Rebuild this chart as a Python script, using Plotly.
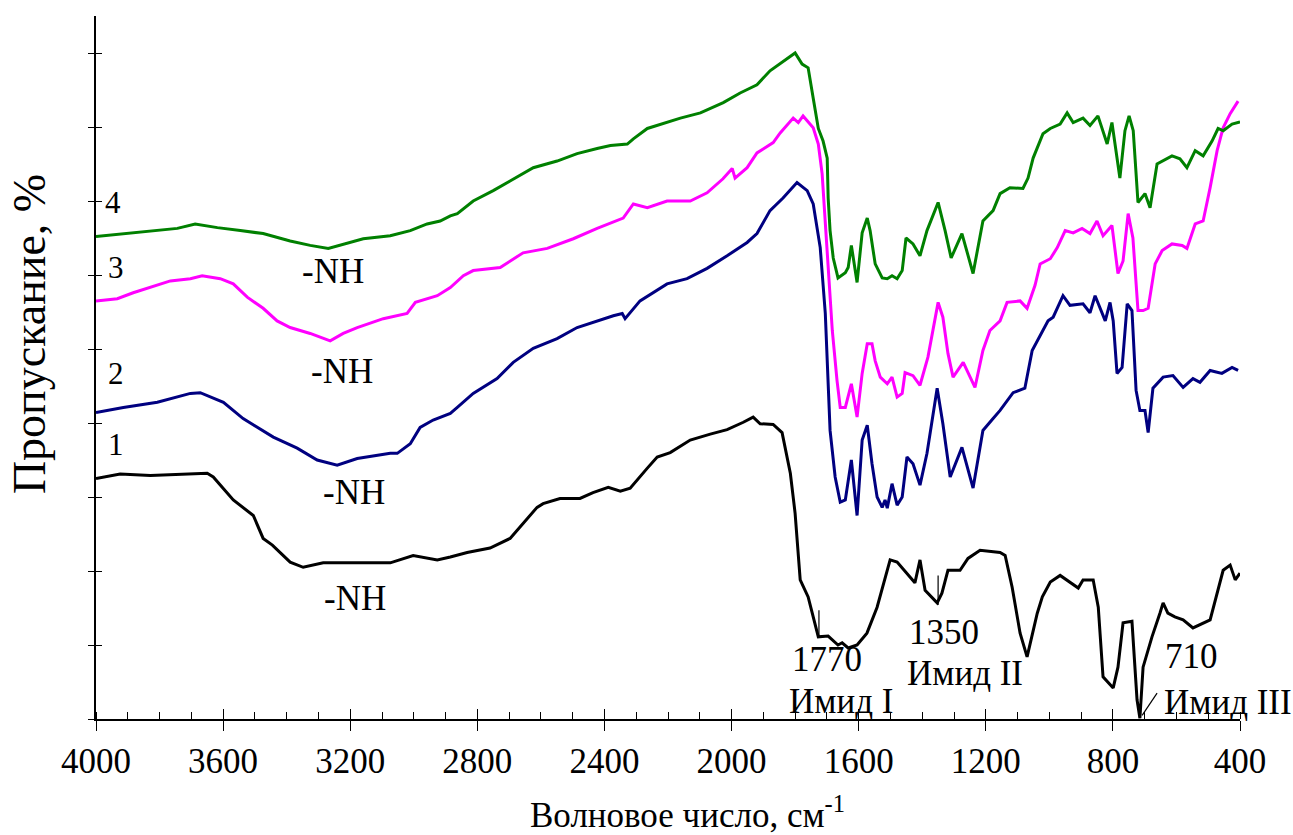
import plotly.graph_objects as go

# Curve 1 (black)
wn1 = [4000,3924,3829,3735,3650,3631,3568,3505,3474,3445,3389,3348,3285,3168,3074,3002,2926,2885,2832,2760,2697,2612,2593,2540,2477,2436,2388,2350,2319,2265,2234,2193,2130,2067,2014,1963,1932,1910,1869,1841,1815,1800,1784,1759,1727,1696,1665,1652,1633,1605,1574,1542,1517,1501,1479,1448,1423,1407,1391,1353,1338,1319,1281,1256,1218,1155,1139,1117,1092,1070,1038,1022,997,966,934,909,894,862,846,831,799,784,768,740,724,715,705,677,652,642,627,605,579,548,494,453,431,415,400]
t1 = [32.5,33.1,32.9,33.1,33.2,32.7,29.6,27.5,24.4,23.5,21.2,20.5,21.1,21.1,21.1,22.1,21.5,21.9,22.5,23.1,24.4,28.6,29.1,29.8,29.8,30.6,31.3,30.8,31.2,33.9,35.4,36.0,37.7,38.5,39.1,40.1,40.8,39.9,39.8,38.7,33.2,27.8,18.8,16.5,11.1,11.2,10.0,10.3,9.6,10.0,11.6,15.1,19.2,21.5,21.2,19.7,18.4,21.5,17.4,15.7,17.0,20.1,20.1,21.7,22.8,22.5,22.1,17.8,11.6,8.4,14.3,16.5,18.5,19.4,18.5,17.7,18.8,18.8,15.1,5.7,4.2,7.0,13.0,13.2,2.6,0.1,7.0,11.1,14.3,15.7,14.3,13.8,13.4,12.3,13.4,20.1,20.8,18.8,19.7]

# Curve 2 (navy)
wn2 = [4000,3914,3807,3703,3672,3599,3537,3442,3367,3304,3241,3178,3074,3052,3011,2980,2939,2885,2863,2813,2738,2687,2624,2549,2486,2423,2372,2344,2335,2288,2203,2140,2077,2014,1951,1920,1879,1838,1794,1762,1743,1721,1705,1690,1674,1658,1642,1623,1605,1589,1573,1558,1542,1526,1517,1510,1495,1479,1463,1448,1429,1407,1385,1353,1335,1312,1275,1240,1209,1177,1155,1114,1077,1054,1020,1004,988,957,935,894,872,856,824,809,799,787,771,755,740,727,715,699,689,674,642,611,579,548,526,494,457,425,406]
t2 = [41.4,42.1,42.8,44.0,44.1,42.8,40.6,38.1,36.6,35.0,34.3,35.2,35.9,35.9,37.2,39.4,40.4,41.3,42.1,44.0,46.0,48.2,50.1,51.4,52.9,53.8,54.5,54.8,54.1,56.5,58.8,59.5,60.9,62.6,64.4,65.6,68.7,70.4,72.5,71.4,69.6,63.7,54.8,39.0,32.7,29.3,29.6,35.0,27.5,37.7,39.7,34.5,30.0,28.6,29.6,28.5,31.8,28.9,30.0,35.4,34.5,31.6,35.9,44.7,39.9,32.7,36.7,31.2,39.0,40.6,41.7,44.1,44.7,49.8,52.5,53.8,54.3,57.2,55.9,56.1,54.9,57.2,53.8,56.3,53.8,46.7,47.5,56.1,55.2,44.4,41.7,41.7,38.7,44.7,46.2,46.4,44.8,46.0,45.5,47.1,46.7,47.5,47.1]

# Curve 3 (magenta)
wn3 = [4000,3933,3883,3807,3766,3703,3666,3609,3568,3524,3474,3430,3389,3326,3263,3222,3178,3096,3021,2995,2926,2885,2844,2813,2728,2656,2580,2498,2423,2341,2309,2265,2203,2130,2077,2027,1998,1989,1951,1920,1869,1847,1806,1790,1775,1743,1727,1715,1699,1683,1668,1658,1642,1623,1605,1589,1573,1558,1548,1532,1510,1495,1479,1463,1454,1429,1407,1382,1350,1335,1319,1303,1271,1234,1209,1187,1155,1133,1092,1070,1045,1029,997,975,950,925,897,872,850,831,803,784,768,752,737,721,705,689,667,645,614,582,567,541,516,494,472,453,431,406]
t3 = [56.5,56.8,57.6,58.6,59.2,59.5,59.9,59.5,58.8,57.0,55.5,53.8,52.9,52.1,51.1,52.1,52.9,54.1,54.8,56.3,57.2,58.3,59.9,60.6,61.0,63.0,63.6,64.9,66.3,67.7,69.6,69.1,70.0,70.0,71.1,73.0,74.4,73.1,74.5,76.5,77.9,79.2,81.2,80.6,81.5,79.9,77.7,73.7,63.7,52.5,45.7,42.1,42.1,45.3,40.8,46.7,50.7,50.7,48.4,46.2,45.3,46.2,43.5,44.0,46.8,46.4,45.1,48.9,56.3,54.3,49.4,46.2,48.2,44.8,49.8,52.5,53.8,56.3,56.5,55.5,58.6,61.5,62.2,63.7,66.0,65.7,66.3,65.6,67.3,65.3,66.7,60.2,61.9,68.3,65.0,55.2,55.2,55.5,61.5,63.3,64.2,64.0,63.6,66.9,67.3,71.8,76.8,79.9,81.8,83.5]

# Curve 4 (green)
wn4 = [4000,3914,3807,3744,3688,3618,3546,3474,3389,3326,3269,3222,3159,3074,3011,2958,2917,2885,2863,2813,2750,2697,2624,2549,2486,2423,2381,2328,2309,2265,2161,2098,2026,1973,1920,1879,1825,1800,1778,1759,1743,1727,1712,1699,1696,1690,1680,1665,1642,1633,1623,1614,1605,1589,1573,1564,1548,1526,1510,1495,1479,1463,1451,1429,1407,1385,1350,1328,1309,1275,1240,1209,1177,1155,1124,1083,1067,1051,1020,997,966,944,925,894,872,847,818,803,778,762,749,736,721,699,683,661,629,614,589,567,541,516,488,469,453,425,400]
t4 = [65.2,65.6,66.0,66.3,66.9,66.4,66.0,65.6,64.6,64.0,63.6,64.2,64.9,65.3,66.0,66.9,67.3,68.0,68.3,70.0,71.4,72.7,74.5,75.4,76.4,77.1,77.5,77.7,78.4,79.8,81.2,81.9,83.3,84.6,85.7,87.6,89.3,90.0,88.5,88.0,83.9,79.8,78.1,75.8,70.4,66.0,62.3,59.6,60.3,61.0,64.0,61.5,59.0,65.7,67.7,66.0,61.5,59.6,59.5,59.9,59.5,60.6,65.0,64.2,62.6,66.0,69.8,66.0,62.3,65.6,60.2,67.3,68.7,71.0,71.8,71.7,73.1,75.8,79.1,79.8,80.4,81.9,80.6,81.2,80.2,81.5,77.7,80.6,73.1,79.5,81.5,79.5,69.8,71.0,69.1,75.0,75.8,76.1,75.7,74.5,76.8,76.1,78.1,79.8,79.5,80.4,80.7]

for a, b in [(wn1, t1), (wn2, t2), (wn3, t3), (wn4, t4)]:
    assert len(a) == len(b), (len(a), len(b))

series = [
    (wn1, t1, "1", "#000000"),
    (wn2, t2, "2", "#000080"),
    (wn3, t3, "3", "#FF00FF"),
    (wn4, t4, "4", "#008000"),
]

# curve labels: (text, wavenumber, value)
curve_labels = [("4", 3946, 69.8), ("3", 3936, 61.0), ("2", 3936, 46.7), ("1", 3936, 37.1)]
nh_labels = [("-NH", 3253, 60.5), ("-NH", 3225, 47.0), ("-NH", 3187, 30.6), ("-NH", 3185, 16.3)]
band_labels = [("1770", 1700, 8.0), ("Имид I", 1655, 2.4), ("1350", 1331, 11.7),
               ("Имид II", 1265, 6.2), ("710", 554, 8.4), ("Имид III", 438, 2.2)]
# marker segments: (x0, y0, x1, y1) in data units
markers = [(1725, 14.7, 1725, 11.0), (1350, 19.4, 1350, 15.4), (708, 0.5, 661, 3.5)]

FONT = "Liberation Serif, Times New Roman, serif"

fig = go.Figure()
for x, y, name, col in series:
    fig.add_trace(go.Scatter(x=x, y=y, mode="lines", name=name,
                             line=dict(color=col, width=3), showlegend=False))
# helper trace for crossing tick overlay axes
fig.add_trace(go.Scatter(x=[4000], y=[0], xaxis="x2", yaxis="y2", mode="markers",
                         marker=dict(opacity=0), showlegend=False, hoverinfo="skip"))

for m in markers:
    fig.add_shape(type="line", x0=m[0], y0=m[1], x1=m[2], y1=m[3],
                  xref="x", yref="y", line=dict(color="black", width=1.2))

ann = []
for txt, xv, yv in curve_labels:
    ann.append(dict(x=xv, y=yv, text=txt, font=dict(size=31)))
for txt, xv, yv in nh_labels:
    ann.append(dict(x=xv, y=yv, text=txt, font=dict(size=35)))
for txt, xv, yv in band_labels:
    ann.append(dict(x=xv, y=yv, text=txt, font=dict(size=35)))
for a in ann:
    a.update(xref="x", yref="y", showarrow=False, xanchor="center", yanchor="middle")
    a["font"].update(family=FONT, color="black")

ann.append(dict(text="Волновое число, см<sup>-1</sup>", xref="paper", yref="paper",
                x=0.517, y=-0.133, showarrow=False, xanchor="center", yanchor="middle",
                font=dict(family=FONT, size=35, color="black")))
ann.append(dict(text="Пропускание, %", xref="paper", yref="paper", textangle=-90,
                x=-0.058, y=0.547, showarrow=False, xanchor="center", yanchor="middle",
                font=dict(family=FONT, size=46, color="black")))

fig.update_layout(
    width=1293, height=835, autosize=False,
    margin=dict(l=96, r=53, t=16, b=116),
    paper_bgcolor="white", plot_bgcolor="white",
    font=dict(family=FONT, size=35, color="black"),
    annotations=ann,
    xaxis=dict(range=[4000, 400], tick0=0, dtick=400, ticks="outside", ticklen=10,
               tickwidth=1.3, tickcolor="black", showline=True, linecolor="black",
               linewidth=1.5, showgrid=False, zeroline=False,
               tickfont=dict(family=FONT, size=35, color="black"),
               minor=dict(dtick=100, tick0=0, ticks="inside", ticklen=7,
                          tickwidth=1.2, tickcolor="black", showgrid=False)),
    yaxis=dict(range=[0, 95], tick0=0, dtick=10, ticks="outside", ticklen=6,
               tickwidth=1.3, tickcolor="black", showline=True, linecolor="black",
               linewidth=1.5, showgrid=False, zeroline=False, showticklabels=False),
    xaxis2=dict(overlaying="x", matches="x", anchor="y2", range=[4000, 400], tick0=0,
                dtick=400, ticks="inside", ticklen=10, tickwidth=1.3, tickcolor="black",
                showline=False, showgrid=False, zeroline=False, showticklabels=False),
    yaxis2=dict(overlaying="y", matches="y", anchor="x2", range=[0, 95], tick0=0,
                dtick=10, ticks="inside", ticklen=6, tickwidth=1.3, tickcolor="black",
                showline=False, showgrid=False, zeroline=False, showticklabels=False),
)

fig.write_html("out.html")
